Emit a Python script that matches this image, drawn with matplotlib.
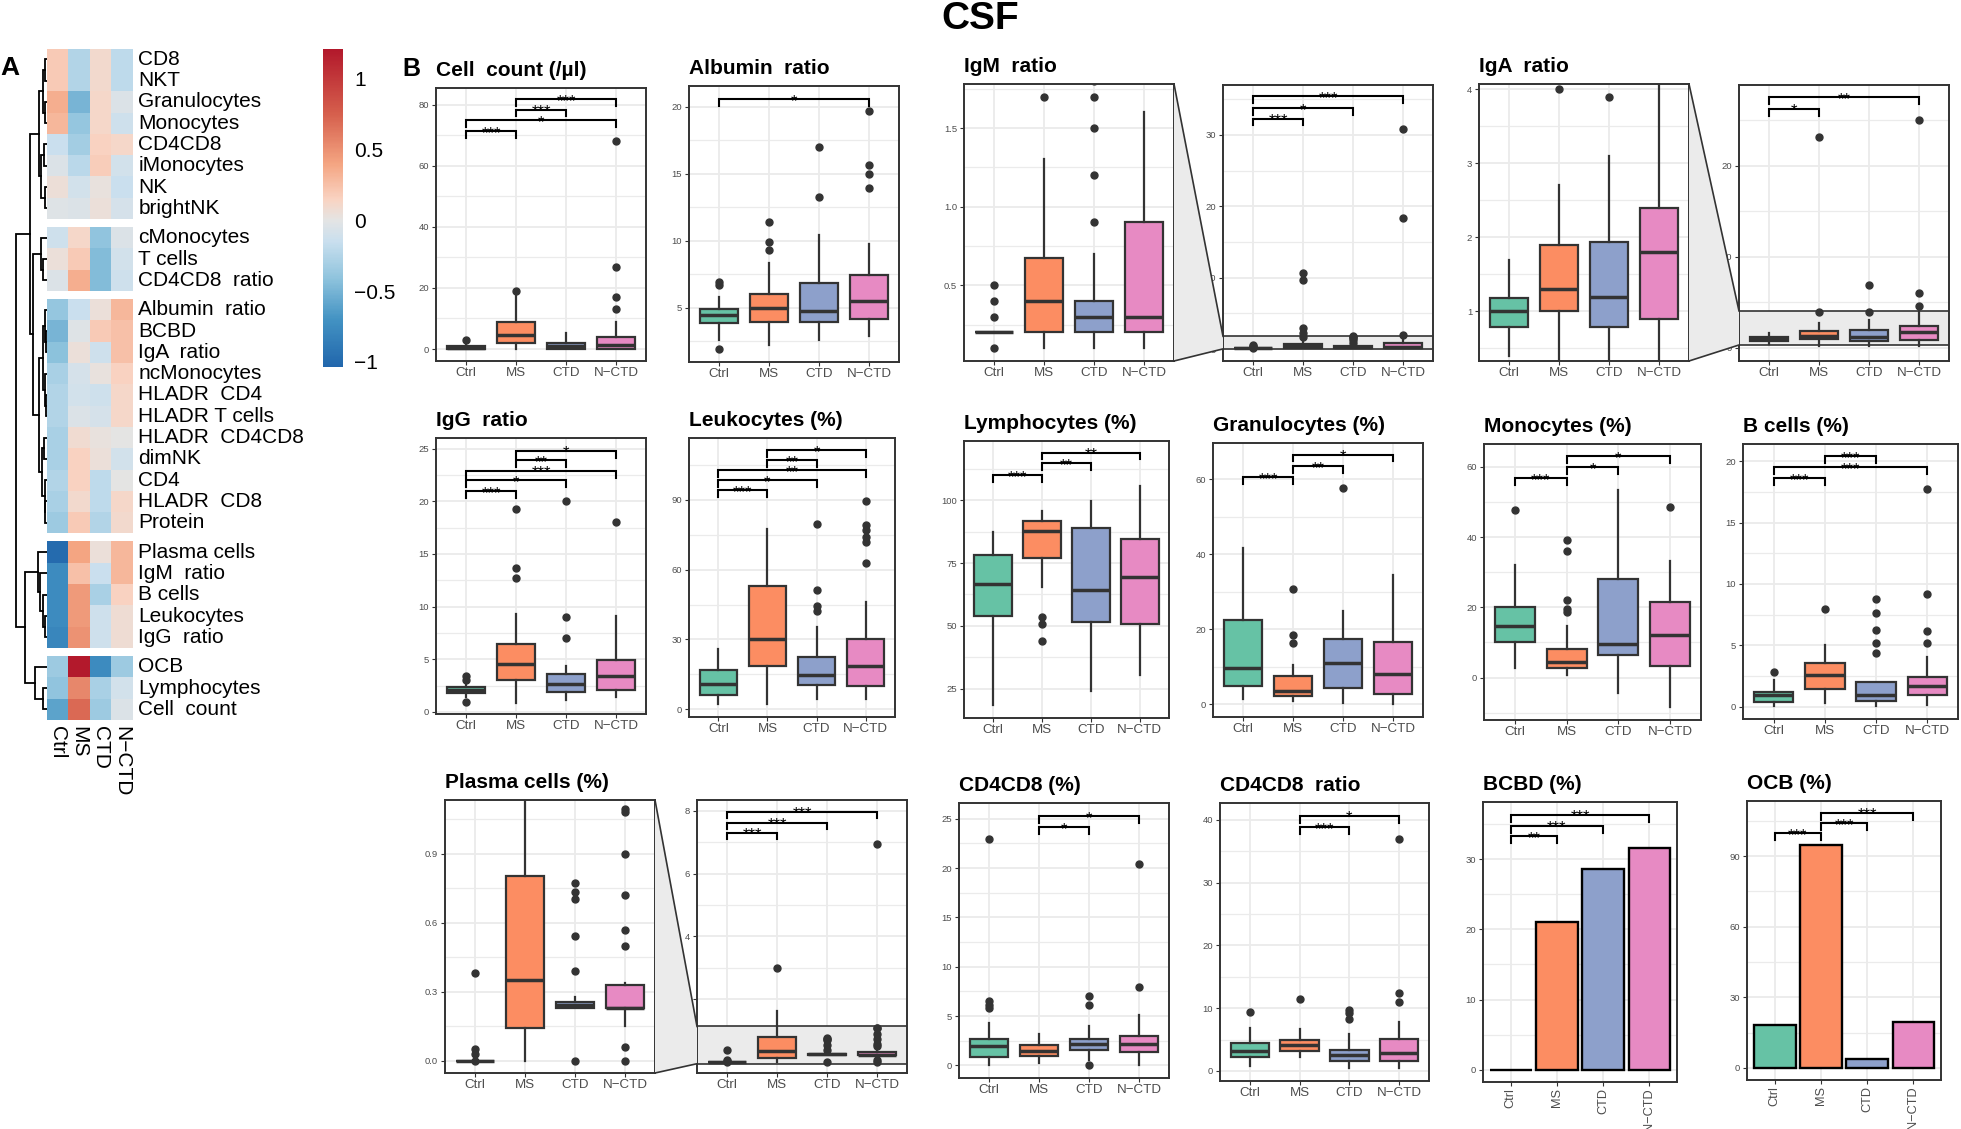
import numpy as np
import matplotlib
matplotlib.use("Agg")
import matplotlib.pyplot as plt
from matplotlib.colors import LinearSegmentedColormap, Normalize
from matplotlib.cm import ScalarMappable
from matplotlib.patches import Polygon
from matplotlib.lines import Line2D
from matplotlib.ticker import AutoMinorLocator

plt.rcParams['font.family'] = ['Liberation Sans', 'DejaVu Sans']

groups = ["Ctrl", "MS", "CTD", "N\u2212CTD"]
group_colors = ["#66c2a5", "#fc8d62", "#8da0cb", "#e78ac3"]

# ---------------- panel A : heatmap (Ctrl, MS, CTD, N-CTD)
hm_rows = ["CD8", "NKT", "Granulocytes", "Monocytes", "CD4CD8", "iMonocytes", "NK", "brightNK",
           "cMonocytes", "T cells", "CD4CD8  ratio",
           "Albumin  ratio", "BCBD", "IgA  ratio", "ncMonocytes", "HLADR  CD4", "HLADR T cells",
           "HLADR  CD4CD8", "dimNK", "CD4", "HLADR  CD8", "Protein",
           "Plasma cells", "IgM  ratio", "B cells", "Leukocytes", "IgG  ratio",
           "OCB", "Lymphocytes", "Cell  count"]
hm_values = [
    [0.20, -0.25, 0.10, -0.20], [0.20, -0.25, 0.10, -0.20], [0.35, -0.50, 0.12, -0.05],
    [0.30, -0.38, 0.12, -0.12], [-0.15, -0.32, 0.15, 0.12], [-0.05, -0.22, 0.18, -0.10],
    [0.06, -0.10, 0.03, -0.15], [-0.03, -0.05, 0.05, -0.08],
    [-0.12, 0.12, -0.40, -0.05], [0.05, 0.20, -0.45, -0.10], [-0.05, 0.35, -0.45, -0.12],
    [-0.38, -0.15, 0.05, 0.30], [-0.50, -0.03, 0.20, 0.25], [-0.42, 0.05, -0.12, 0.25],
    [-0.30, -0.08, 0.03, 0.15], [-0.25, -0.10, -0.12, 0.12], [-0.25, -0.05, -0.08, 0.12],
    [-0.30, 0.08, 0.03, 0.00], [-0.30, 0.15, 0.05, -0.10], [-0.25, 0.15, -0.20, 0.00],
    [-0.30, 0.10, -0.20, 0.12], [-0.35, 0.20, -0.25, 0.10],
    [-1.00, 0.40, 0.05, 0.30], [-0.75, 0.25, -0.15, 0.30], [-0.75, 0.45, -0.30, 0.15],
    [-0.75, 0.45, -0.12, 0.07], [-0.80, 0.50, -0.12, 0.07],
    [-0.35, 1.20, -0.75, -0.35], [-0.40, 0.55, -0.30, -0.10], [-0.60, 0.70, -0.35, -0.05]]
hm_blocks = [8, 3, 11, 5, 3]
hm_range = [-1.04, 1.215]
# row dendrogram: (left node, right node, height)
hm_merges = [(0, 1, 1.3), (2, 3, 1.5), (30, 31, 4.0), (4, 5, 2.4), (6, 7, 1.7), (33, 34, 6.0),
             (32, 35, 7.4), (9, 10, 3.4), (8, 37, 6.0), (12, 13, 1.0), (11, 39, 2.0),
             (15, 16, 0.7), (14, 41, 1.5), (40, 42, 4.0), (17, 18, 2.5), (20, 21, 1.3),
             (19, 45, 2.2), (44, 46, 4.5), (43, 47, 7.5), (38, 48, 13.4), (36, 49, 16.7),
             (25, 26, 1.7), (24, 51, 3.7), (23, 52, 6.7), (22, 53, 8.4), (28, 29, 3.7),
             (27, 55, 11.7), (54, 56, 21.7), (50, 57, 30.7)]

# ---------------- panel B : box stats (whislo, q1, median, q3, whishi), outliers, tests
cell_count_box = [(0, 0, 0.3, 1.0, 2.0), (0, 1.85, 4.6, 8.9, 17.5), (0, 0, 1.0, 2.1, 5.1), (0, 0, 1.3, 4.1, 8.9)]
cell_count_out = [[2.9], [19.1], [], [13.0, 16.9, 26.9, 68.0]]
cell_count_sig = [(0, 1, 71.4, "***"), (0, 3, 74.9, "*"), (1, 2, 78.4, "***"), (1, 3, 81.7, "***")]

albumin_box = [(2.56, 3.85, 4.43, 4.93, 5.8), (2.23, 3.9, 4.98, 6.05, 8.3),
               (2.6, 3.93, 4.73, 6.87, 10.4), (2.9, 4.18, 5.5, 7.47, 9.78)]
albumin_out = [[1.89, 6.67, 6.92], [9.29, 9.88, 11.38], [13.27, 16.96], [13.97, 14.97, 15.67, 19.68]]
albumin_sig = [(0, 3, 20.57, "*")]

igm_box = [(0.2, 0.2, 0.2, 0.2, 0.2), (0.1, 0.2, 0.4, 0.676, 1.3), (0.1, 0.2, 0.3, 0.4, 0.7), (0.1, 0.2, 0.3, 0.9, 1.6)]
igm_out = [[0.1, 0.3, 0.4, 0.5], [1.7, 2.2, 3.0, 9.7, 10.6], [0.9, 1.2, 1.5, 1.7, 1.8], [2.0, 18.3, 30.8]]
igm_sig = [(0, 1, 32.3, "***"), (0, 2, 33.8, "*"), (0, 3, 35.4, "***")]

iga_box = [(0.4, 0.79, 1.0, 1.176, 1.7), (0.2, 1.0, 1.3, 1.9, 2.7), (0.2, 0.79, 1.2, 1.93, 3.1), (0.2, 0.9, 1.8, 2.4, 4.1)]
iga_out = [[], [4.0, 23.2], [3.9, 6.96], [4.65, 6.08, 25.1]]
iga_sig = [(0, 1, 26.3, "*"), (0, 3, 27.6, "**")]

igg_box = [(1.4, 1.8, 2.12, 2.37, 2.9), (0.85, 3.0, 4.59, 6.49, 9.3),
           (1.1, 1.93, 2.69, 3.64, 4.34), (1.39, 2.06, 3.39, 4.97, 9.08)]
igg_out = [[0.98, 3.07, 3.42], [12.7, 13.7, 19.3], [7.0, 9.0, 20.0], [18.0]]
igg_sig = [(0, 1, 21.0, "***"), (0, 2, 22.0, "*"), (0, 3, 22.9, "***"), (1, 2, 23.9, "**"), (1, 3, 24.8, "*")]

leuk_box = [(2.2, 6.0, 10.8, 16.8, 25.7), (2.2, 18.5, 30.0, 53.1, 77.5),
            (4.3, 10.3, 14.6, 22.5, 35.4), (4.3, 10.0, 18.65, 30.1, 45.9)]
leuk_out = [[], [], [42.3, 44.5, 51.2, 79.5], [62.7, 71.7, 74.2, 77.0, 79.0, 89.4]]
leuk_sig = [(0, 1, 94.0, "***"), (0, 2, 98.3, "*"), (0, 3, 102.6, "**"), (1, 2, 106.9, "**"), (1, 3, 111.2, "*")]

lymph_box = [(18.4, 54.0, 66.7, 78.2, 87.2), (65.6, 76.9, 87.8, 91.8, 95.6),
             (24.0, 51.7, 64.2, 89.0, 99.6), (30.4, 50.7, 69.3, 84.7, 105.6)]
lymph_out = [[], [44.2, 50.8, 53.7], [], []]
lymph_sig = [(0, 1, 109.9, "***"), (1, 2, 114.6, "**"), (1, 3, 118.9, "**")]

gran_box = [(1.5, 4.97, 9.76, 22.4, 41.6), (0.8, 2.2, 3.46, 7.6, 10.4),
            (0.35, 4.2, 11.0, 17.3, 24.8), (0.0, 2.84, 8.0, 16.7, 34.5)]
gran_out = [[], [16.2, 18.5, 30.7], [57.7], []]
gran_sig = [(0, 1, 60.5, "***"), (1, 2, 63.4, "**"), (1, 3, 66.5, "*")]

mono_box = [(2.7, 10.0, 14.7, 20.1, 31.9), (0.8, 2.8, 4.5, 8.1, 14.8),
            (-4.5, 6.3, 9.5, 28.1, 53.5), (-8.5, 3.3, 12.2, 21.4, 33.2)]
mono_out = [[47.7], [18.6, 19.6, 22.1, 36.1, 39.1], [], [48.7]]
mono_sig = [(0, 1, 56.7, "***"), (1, 2, 59.9, "*"), (1, 3, 63.0, "*")]

bcell_box = [(0.05, 0.35, 0.98, 1.22, 2.17), (0.27, 1.47, 2.55, 3.53, 5.03),
             (0.05, 0.46, 0.92, 2.01, 2.01), (0.14, 0.95, 1.68, 2.42, 4.08)]
bcell_out = [[2.83], [8.0], [4.35, 5.19, 6.22, 7.66, 8.75], [5.2, 6.14, 9.16, 17.7]]
bcell_sig = [(0, 1, 18.6, "***"), (0, 3, 19.5, "***"), (1, 2, 20.4, "***")]

plasma_box = [(0, 0, 0, 0, 0), (0, 0.142, 0.349, 0.803, 1.62),
              (0.227, 0.227, 0.24, 0.253, 0.276), (0.152, 0.227, 0.23, 0.33, 0.337)]
plasma_out = [[0.0, 0.03, 0.05, 0.38], [3.0], [0.0, 0.39, 0.54, 0.703, 0.735, 0.77],
              [0.0, 0.059, 0.498, 0.569, 0.72, 0.9, 1.081, 1.095, 6.94]]
plasma_sig = [(0, 1, 7.31, "***"), (0, 2, 7.63, "***"), (0, 3, 7.98, "***")]

cd4cd8_box = [(0, 0.88, 1.93, 2.64, 4.29), (0.24, 0.98, 1.42, 2.06, 3.2),
              (0.57, 1.59, 2.16, 2.64, 4.02), (0.03, 1.39, 2.16, 2.94, 5.07)]
cd4cd8_out = [[5.78, 6.15, 6.52, 23.0], [], [0.03, 6.08, 7.06], [7.94, 20.4]]
cd4cd8_sig = [(1, 2, 24.15, "*"), (1, 3, 25.3, "*")]

ratio_box = [(0.85, 2.29, 3.19, 4.41, 6.91), (2.18, 3.24, 4.1, 5.0, 6.7),
             (0.43, 1.54, 2.55, 3.4, 5.9), (0.43, 1.65, 2.93, 5.16, 7.87)]
ratio_out = [[9.36], [11.5], [8.35, 9.2, 9.68], [11.06, 12.4, 37.0]]
ratio_sig = [(1, 2, 38.9, "***"), (1, 3, 40.7, "*")]

bcbd_pct = [0, 21.1, 28.6, 31.66]
bcbd_sig = [(0, 1, 33.3, "**"), (0, 2, 34.8, "***"), (0, 3, 36.35, "***")]

ocb_pct = [18.25, 94.8, 3.8, 19.5]
ocb_sig = [(0, 1, 99.6, "***"), (1, 2, 104.1, "***"), (1, 3, 108.5, "***")]

# ---------------------------------------------------------------------------
W, H = 1961, 1129
fig = plt.figure(figsize=(W / 100, H / 100), dpi=100)
EDGE = "#333333"
GRID = "#ebebeb"


def add_ax(l, t, r, b):
    return fig.add_axes([l / W, 1 - b / H, (r - l) / W, (b - t) / H])


def style(ax, ylim, yticks, fmt="{:g}", rot=0):
    ax.set_xlim(0.4, 4.6)
    ax.set_ylim(*ylim)
    ax.set_yticks(yticks)
    ax.set_yticklabels([fmt.format(v) for v in yticks])
    ax.yaxis.set_minor_locator(AutoMinorLocator(2))
    ax.set_xticks([1, 2, 3, 4])
    xsize = 9.6
    if rot:
        ax.set_xticklabels(groups, rotation=rot, ha="center", va="top")
        xsize = 9.2
    else:
        ax.set_xticklabels(groups)
    ax.grid(True, which="major", color=GRID, lw=1.3)
    ax.grid(True, which="minor", axis="y", color=GRID, lw=0.9)
    ax.set_axisbelow(True)
    ax.tick_params(axis="y", which="minor", length=0)
    ax.tick_params(axis="y", which="major", labelsize=6.8, labelcolor="#4d4d4d",
                   length=3, width=0.8, color=EDGE, pad=2)
    ax.tick_params(axis="x", which="major", labelsize=xsize, labelcolor="#4d4d4d",
                   length=3, width=0.8, color=EDGE, pad=1.5)
    for s in ax.spines.values():
        s.set_color(EDGE)
        s.set_linewidth(1.4)


def draw_boxes(ax, box, out):
    stats = [dict(whislo=lo, q1=q1, med=md, q3=q3, whishi=hi, fliers=np.array(fl))
             for (lo, q1, md, q3, hi), fl in zip(box, out)]
    art = ax.bxp(stats, positions=[1, 2, 3, 4], widths=0.77, patch_artist=True,
                 showcaps=False,
                 boxprops=dict(linewidth=1.6, edgecolor=EDGE),
                 whiskerprops=dict(linewidth=1.6, color=EDGE),
                 medianprops=dict(linewidth=2.5, color=EDGE),
                 flierprops=dict(marker="o", markerfacecolor=EDGE, markeredgecolor=EDGE,
                                 markersize=5))
    for p, c in zip(art["boxes"], group_colors):
        p.set_facecolor(c)
        p.set_zorder(2)


def brackets(ax, sig):
    y0, y1 = ax.get_ylim()
    tip = 0.025 * (y1 - y0)
    for i, j, y, lab in sig:
        ax.plot([i + 1, i + 1, j + 1, j + 1], [y - tip, y, y, y - tip], color="black",
                lw=1.5, zorder=4, solid_joinstyle="miter")
        ax.annotate(lab, xy=((i + j) / 2 + 1, y), xytext=(0, -5), textcoords="offset points",
                    ha="center", va="baseline", fontsize=12, zorder=5)


def title(ax, text):
    ax.set_title(text, loc="left", fontsize=15, fontweight="bold", pad=8.5)


# ---------------- heatmap
GAP = 0.38
row_top = []
y = 0.0
for nb in hm_blocks:
    for k in range(nb):
        row_top.append(y)
        y += 1
    y += GAP
total = y - GAP
vals = np.array(hm_values)

lo, hi = hm_range
anchors = [(-1.04, "#2166ac"), (-0.7, "#4393c3"), (-0.4, "#92c5de"), (-0.15, "#c9dfee"),
           (0.0, "#e4e4e4"), (0.15, "#f9d3c2"), (0.4, "#f4a582"), (0.75, "#d6604d"),
           (1.215, "#b2182b")]
cmap = LinearSegmentedColormap.from_list(
    "rb", [((v - lo) / (hi - lo), c) for v, c in anchors])
norm = Normalize(lo, hi)

hax = add_ax(46.7, 48.6, 132.7, 720)
start = 0
for nb in hm_blocks:
    t0 = row_top[start]
    hax.pcolormesh(np.arange(5), t0 + np.arange(nb + 1), vals[start:start + nb], cmap=cmap, norm=norm)
    start += nb
hax.set_xlim(0, 4)
hax.set_ylim(total, 0)
hax.axis("off")
for name, t in zip(hm_rows, row_top):
    hax.annotate(name, xy=(4, t + 0.5), xytext=(4, 0), textcoords="offset points",
                 ha="left", va="center", fontsize=15, annotation_clip=False)
for c, g in enumerate(groups):
    hax.annotate(g, xy=(c + 0.5, total), xytext=(0, -4), textcoords="offset points",
                 ha="center", va="top", rotation=270, fontsize=15, annotation_clip=False)

dax = add_ax(14, 48.6, 46.7, 720)
pos = {i: (t + 0.5, 0.0) for i, t in enumerate(row_top)}
nid = len(row_top)
for a, b, hgt in hm_merges:
    ya, ha = pos[a]
    yb, hb = pos[b]
    dax.plot([ha, hgt, hgt, hb], [ya, ya, yb, yb], color="black", lw=1.3,
             solid_joinstyle="miter")
    pos[nid] = ((ya + yb) / 2, hgt)
    nid += 1
dax.set_ylim(total, 0)
dax.set_xlim(32.7, 0)
dax.axis("off")

cax = add_ax(322.7, 48.6, 343.3, 367.4)
cb = fig.colorbar(ScalarMappable(norm=norm, cmap=cmap), cax=cax, ticks=[-1, -0.5, 0, 0.5, 1])
cb.outline.set_visible(False)
cb.ax.set_yticklabels(["\u22121", "\u22120.5", "0", "0.5", "1"])
cb.ax.tick_params(length=0, labelsize=15, pad=8)

fig.text(0 / W, 1 - 68 / H, "A", fontsize=19, fontweight="bold", va="center", ha="left")
fig.text(402 / W, 1 - 69 / H, "B", fontsize=18, fontweight="bold", va="center", ha="left")
fig.text(0.5, 1 - 1 / H, "CSF", fontsize=28, fontweight="bold", va="top", ha="center")

# ---------------- plain box panels
box_panels = [
    ("Cell  count (/\u00b5l)", cell_count_box, cell_count_out, cell_count_sig, (436, 88, 646, 361), (-3.92, 85.45), [0, 20, 40, 60, 80]),
    ("Albumin  ratio", albumin_box, albumin_out, albumin_sig, (689, 86, 899, 362), (0.94, 21.55), [5, 10, 15, 20]),
    ("IgG  ratio", igg_box, igg_out, igg_sig, (436, 438, 646, 714), (-0.19, 26.0), [0, 5, 10, 15, 20, 25]),
    ("Leukocytes (%)", leuk_box, leuk_out, leuk_sig, (689, 438, 895, 717), (-3.3, 116.5), [0, 30, 60, 90]),
    ("Lymphocytes (%)", lymph_box, lymph_out, lymph_sig, (964, 441, 1169, 718), (13.4, 123.5), [25, 50, 75, 100]),
    ("Granulocytes (%)", gran_box, gran_out, gran_sig, (1213, 443, 1423, 717), (-3.4, 69.6), [0, 20, 40, 60]),
    ("Monocytes (%)", mono_box, mono_out, mono_sig, (1484, 444, 1701, 720), (-12.1, 66.5), [0, 20, 40, 60]),
    ("B cells (%)", bcell_box, bcell_out, bcell_sig, (1743, 444, 1958, 719), (-1.0, 21.4), [0, 5, 10, 15, 20]),
    ("CD4CD8 (%)", cd4cd8_box, cd4cd8_out, cd4cd8_sig, (959, 803, 1169, 1078), (-1.28, 26.6), [0, 5, 10, 15, 20, 25]),
    ("CD4CD8  ratio", ratio_box, ratio_out, ratio_sig, (1220, 803, 1429, 1081), (-1.6, 42.7), [0, 10, 20, 30, 40]),
]
for ttl, box, out, sig, rect, ylim, yt in box_panels:
    ax = add_ax(*rect)
    draw_boxes(ax, box, out)
    style(ax, ylim, yt)
    brackets(ax, sig)
    title(ax, ttl)

# ---------------- zoomed panels (zoom view + full range with shaded band)
zoom_panels = [
    ("IgM  ratio", igm_box, igm_out, igm_sig, (964, 84, 1174, 361), (0.018, 1.78), [0.5, 1.0, 1.5], "{:.1f}",
     (1223, 85, 1433, 361), (-1.68, 37.0), [0, 10, 20, 30]),
    ("IgA  ratio", iga_box, iga_out, iga_sig, (1479, 84, 1689, 361), (0.33, 4.07), [1, 2, 3, 4], "{:g}",
     (1739, 85, 1949, 361), (-1.43, 28.9), [0, 10, 20]),
    ("Plasma cells (%)", plasma_box, plasma_out, plasma_sig, (445, 800, 655, 1073), (-0.054, 1.133), [0.0, 0.3, 0.6, 0.9], "{:.1f}",
     (697, 800, 907, 1073), (-0.35, 8.35), [0, 2, 4, 6, 8]),
]
for ttl, box, out, sig, rect, zlim, zt, fmt, irect, ilim, it in zoom_panels:
    ax = add_ax(*rect)
    draw_boxes(ax, box, out)
    style(ax, zlim, zt, fmt)
    title(ax, ttl)
    ix = add_ax(*irect)
    draw_boxes(ix, box, out)
    style(ix, ilim, it)
    ix.axhspan(zlim[0], zlim[1], color="#ebebeb", zorder=0.9, lw=0)
    ix.axhline(zlim[0], color=EDGE, lw=1.2, zorder=0.95)
    ix.axhline(zlim[1], color=EDGE, lw=1.2, zorder=0.95)
    brackets(ix, sig)
    fig.canvas.draw()
    p1 = ax.transAxes.transform((1, 1))
    p4 = ax.transAxes.transform((1, 0))
    xl = ix.transAxes.transform((0, 0))[0]
    p2 = (xl, ix.transData.transform((1, zlim[1]))[1])
    p3 = (xl, ix.transData.transform((1, zlim[0]))[1])
    inv = fig.transFigure.inverted()
    pts = inv.transform([p1, p2, p3, p4])
    fig.add_artist(Polygon(pts, closed=True, facecolor="#ebebeb", edgecolor="none", zorder=0.5))
    fig.add_artist(Line2D([pts[0][0], pts[1][0]], [pts[0][1], pts[1][1]], color=EDGE, lw=1.2))
    fig.add_artist(Line2D([pts[3][0], pts[2][0]], [pts[3][1], pts[2][1]], color=EDGE, lw=1.2))

# ---------------- bar panels
bar_panels = [
    ("BCBD (%)", bcbd_pct, bcbd_sig, (1483, 802, 1677, 1082), (-1.75, 38.15), [0, 10, 20, 30]),
    ("OCB (%)", ocb_pct, ocb_sig, (1747, 801, 1941, 1080), (-5.1, 113.4), [0, 30, 60, 90]),
]
for ttl, pct, sig, rect, ylim, yt in bar_panels:
    ax = add_ax(*rect)
    ax.bar([1, 2, 3, 4], pct, width=0.9, color=group_colors, edgecolor="black", lw=1.7, zorder=2)
    style(ax, ylim, yt, rot=90)
    brackets(ax, sig)
    title(ax, ttl)

fig.savefig("out.png", dpi=100)
